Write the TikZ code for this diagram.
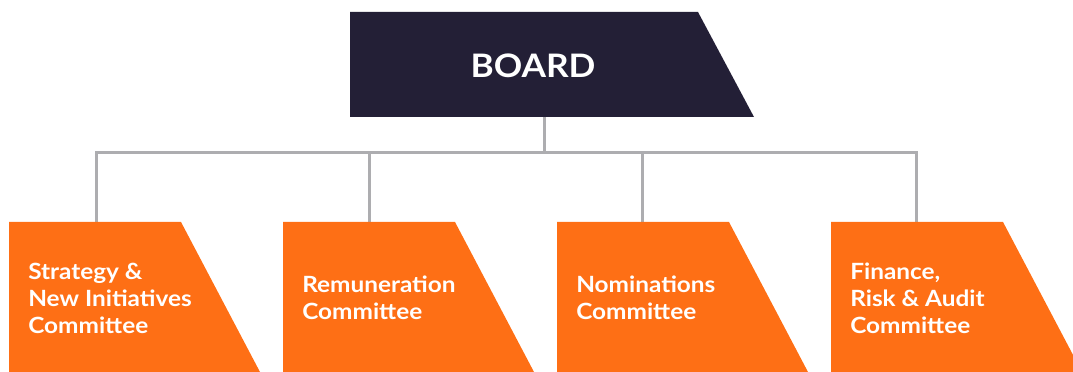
\documentclass[tikz,border=0pt]{standalone}
\usepackage{fontspec}
\setmainfont{Lato}[FakeStretch=1.09]
\definecolor{boardnavy}{HTML}{231F36}
\definecolor{cmtorange}{HTML}{FE6F15}
\definecolor{linkgray}{HTML}{ADADB0}

\begin{document}
\begin{tikzpicture}[x=0.025cm, y=-0.025cm,
    link/.style={draw=linkgray, line width=0.075cm},
    cmttext/.style={text=white, font=\bfseries\fontsize{15.9}{19.2}\selectfont, anchor=west, align=left, inner sep=0pt}]
    \useasboundingbox (0,0) rectangle (1073,372);
    \coordinate (B) at (544,117);
    \coordinate (hub) at (544,153);
    \draw[link] (hub) -- (B);
    \fill[boardnavy] (350,12) -- (698,12) -- (754,117) -- (350,117) -- cycle;
    \node[text=white, font=\bfseries\fontsize{23}{27}\selectfont] (board) at (533,66) {BOARD};
    \foreach \x/\c/\n/\txt in {9/96/strategy/{Strategy \&\\New Initiatives\\Committee},
                               283/369/remuneration/{Remuneration\\Committee},
                               557/642/nominations/{Nominations\\Committee},
                               831/916/finance/{Finance,\\Risk \& Audit\\Committee}}{
        \coordinate (\n-top) at (\c,222);
        \draw[link] (\n-top) |- (hub);
        \fill[cmtorange] (\x,222) -- ++(172,0) -- ++(79,150) -- (\x,372) -- cycle;
        \node[cmttext] (\n) at (\x+19,298) {\txt};
    }
\end{tikzpicture}
\end{document}
